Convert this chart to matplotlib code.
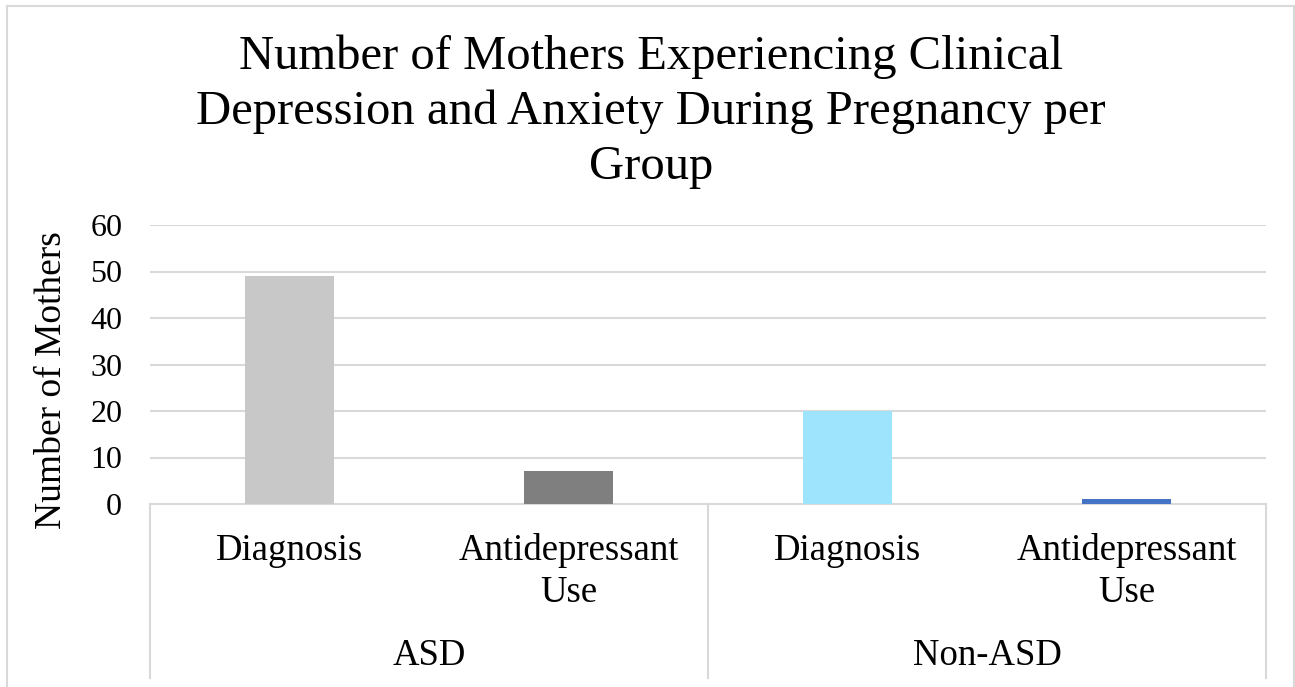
import matplotlib
matplotlib.use("Agg")
import matplotlib.pyplot as plt
from matplotlib.lines import Line2D
import matplotlib.transforms as mtrans

groups = ["ASD", "Non-ASD"]
subcats = ["Diagnosis", "Antidepressant\nUse"]
values = [49, 7, 20, 1]
colors = ["#c8c8c8", "#7f7f7f", "#9ee4fc", "#4472c4"]
yticks = [0, 10, 20, 30, 40, 50, 60]
title_lines = ["Number of Mothers Experiencing Clinical",
               "Depression and Anxiety During Pregnancy per",
               "Group"]
ylabel = "Number of Mothers"

W, H = 1295, 687
plt.rcParams['font.family'] = ['Liberation Serif', 'DejaVu Serif']
fig = plt.figure(figsize=(W / 100, H / 100), dpi=100)
fig.patch.set_facecolor("white")

x0, x1 = 150, 1266
y_top, y_bot = 225, 504
ax = fig.add_axes([x0 / W, (H - y_bot) / H, (x1 - x0) / W, (y_bot - y_top) / H])
grid_c = "#d9d9d9"

n = len(values)
xs = list(range(n))
ax.bar(xs, values, width=0.316, color=colors, zorder=3)
ax.set_xlim(-0.5, n - 0.5)
ax.set_ylim(0, 60)
ax.set_yticks(yticks)
ax.set_yticklabels([str(t) for t in yticks], fontsize=23)
ax.tick_params(axis='y', length=0, pad=20)
ax.set_xticks([])
for t in yticks[1:]:
    ax.axhline(t, color=grid_c, lw=1.5, zorder=1)
for s in ["top", "right", "left"]:
    ax.spines[s].set_visible(False)
ax.spines["bottom"].set_color(grid_c)
ax.spines["bottom"].set_linewidth(1.5)

fig.text(52 / W, 1 - 380 / H, ylabel, rotation=90, ha="center", va="center",
         fontsize=27)

tr = mtrans.blended_transform_factory(ax.transData, ax.transAxes)
axh = y_bot - y_top
def yfrac(py):
    return (y_bot - py) / axh

sep_bottom = yfrac(678)
for xv in [-0.5, 1.5, 3.5]:
    ax.add_line(Line2D([xv, xv], [0, sep_bottom], transform=tr, color=grid_c,
                       lw=1.5, clip_on=False))

for i, v in enumerate(values):
    for k, line in enumerate(subcats[i % 2].split("\n")):
        ax.text(i, yfrac(560 + 42 * k), line, transform=tr, ha="center",
                va="baseline", fontsize=26.5)
for g, name in enumerate(groups):
    ax.text(2 * g + 0.5, yfrac(665), name, transform=tr, ha="center",
            va="baseline", fontsize=26.5)

for k, line in enumerate(title_lines):
    fig.text(651 / W, 1 - (69 + 55 * k) / H, line, ha="center", va="baseline",
             fontsize=35)

for (xa, ya, xb, yb) in [(7, 6, 1294, 6), (7, 6, 7, H), (1294, 6, 1294, H)]:
    fig.add_artist(Line2D([xa / W, xb / W], [1 - ya / H, 1 - yb / H],
                          transform=fig.transFigure, color=grid_c, lw=1.5))

fig.savefig("out.png", dpi=100)
